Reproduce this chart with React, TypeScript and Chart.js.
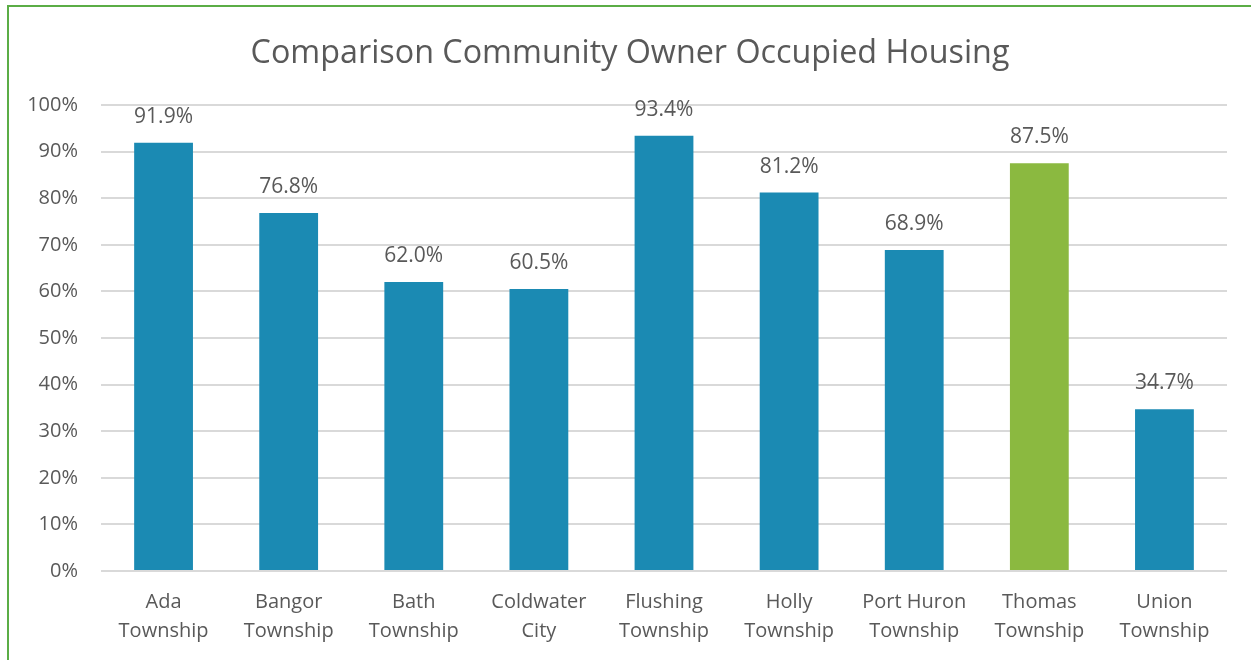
import React, { useEffect, useRef } from "react";
import { Chart, registerables } from "chart.js";

Chart.register(...registerables);

const categories: string[][] = [
  ["Ada", "Township"],
  ["Bangor", "Township"],
  ["Bath", "Township"],
  ["Coldwater", "City"],
  ["Flushing", "Township"],
  ["Holly", "Township"],
  ["Port Huron", "Township"],
  ["Thomas", "Township"],
  ["Union", "Township"],
];
const values: number[] = [91.9, 76.8, 62.0, 60.5, 93.4, 81.2, 68.9, 87.5, 34.7];
const barColors: string[] = [
  "#1B8AB3", "#1B8AB3", "#1B8AB3", "#1B8AB3", "#1B8AB3",
  "#1B8AB3", "#1B8AB3", "#8BB940", "#1B8AB3",
];
const titleText = "Comparison Community Owner Occupied Housing";

const FONT = "'Open Sans', 'Noto Sans', sans-serif";
const TEXT = "#595959";

const labelPlugin = {
  id: "barLabels",
  afterDatasetsDraw(chart: any) {
    const ctx = chart.ctx;
    const meta = chart.getDatasetMeta(0);
    ctx.save();
    ctx.font = `21px ${FONT}`;
    ctx.fillStyle = TEXT;
    ctx.textAlign = "center";
    ctx.textBaseline = "middle";
    meta.data.forEach((bar: any, i: number) => {
      ctx.fillText(values[i].toFixed(1) + "%", bar.x, bar.y - 26);
    });
    ctx.restore();
  },
};

export default function App() {
  const ref = useRef<HTMLCanvasElement>(null);
  useEffect(() => {
    if (!ref.current) return;
    const chart = new Chart(ref.current, {
      type: "bar",
      data: {
        labels: categories,
        datasets: [
          {
            data: values,
            backgroundColor: barColors,
            categoryPercentage: 1,
            barPercentage: 0.47,
          },
        ],
      },
      options: {
        animation: false,
        responsive: false,
        maintainAspectRatio: false,
        layout: { padding: 0 },
        plugins: {
          legend: { display: false },
          tooltip: { enabled: false },
          title: {
            display: true,
            text: titleText,
            color: TEXT,
            font: { family: FONT, size: 32.3, weight: "normal" },
            padding: { top: 27, bottom: 32.24 },
          },
        },
        scales: {
          x: {
            grid: { display: false },
            border: { display: false },
            ticks: {
              color: TEXT,
              font: { family: FONT, size: 20, lineHeight: "29px" },
              padding: 9,
              maxRotation: 0,
              autoSkip: false,
            },
            afterFit: (s: any) => {
              s.height = 91;
            },
          },
          y: {
            min: 0,
            max: 100,
            grid: { color: "#D9D9D9", lineWidth: 2, drawTicks: false },
            border: { display: false },
            ticks: {
              stepSize: 10,
              color: TEXT,
              font: { family: FONT, size: 20 },
              padding: 23,
              callback: (v: any) => v + "%",
            },
            afterFit: (s: any) => {
              s.width = 92;
            },
          },
          yRight: {
            position: "right",
            display: true,
            grid: { display: false, drawTicks: false },
            border: { display: false },
            ticks: { display: false },
            afterFit: (s: any) => {
              s.width = 24;
            },
          },
        },
      },
      plugins: [labelPlugin],
    });
    return () => chart.destroy();
  }, []);

  return (
    <div style={{ position: "fixed", left: 0, top: 0, width: 1251, height: 660, overflow: "hidden", background: "#fff" }}>
      <div
        style={{
          position: "absolute",
          left: 7,
          top: 5,
          width: 1242,
          height: 660,
          border: "2px solid #5BAD46",
          background: "#fff",
        }}
      >
        <canvas ref={ref} width={1242} height={655} style={{ display: "block" }} />
      </div>
    </div>
  );
}
